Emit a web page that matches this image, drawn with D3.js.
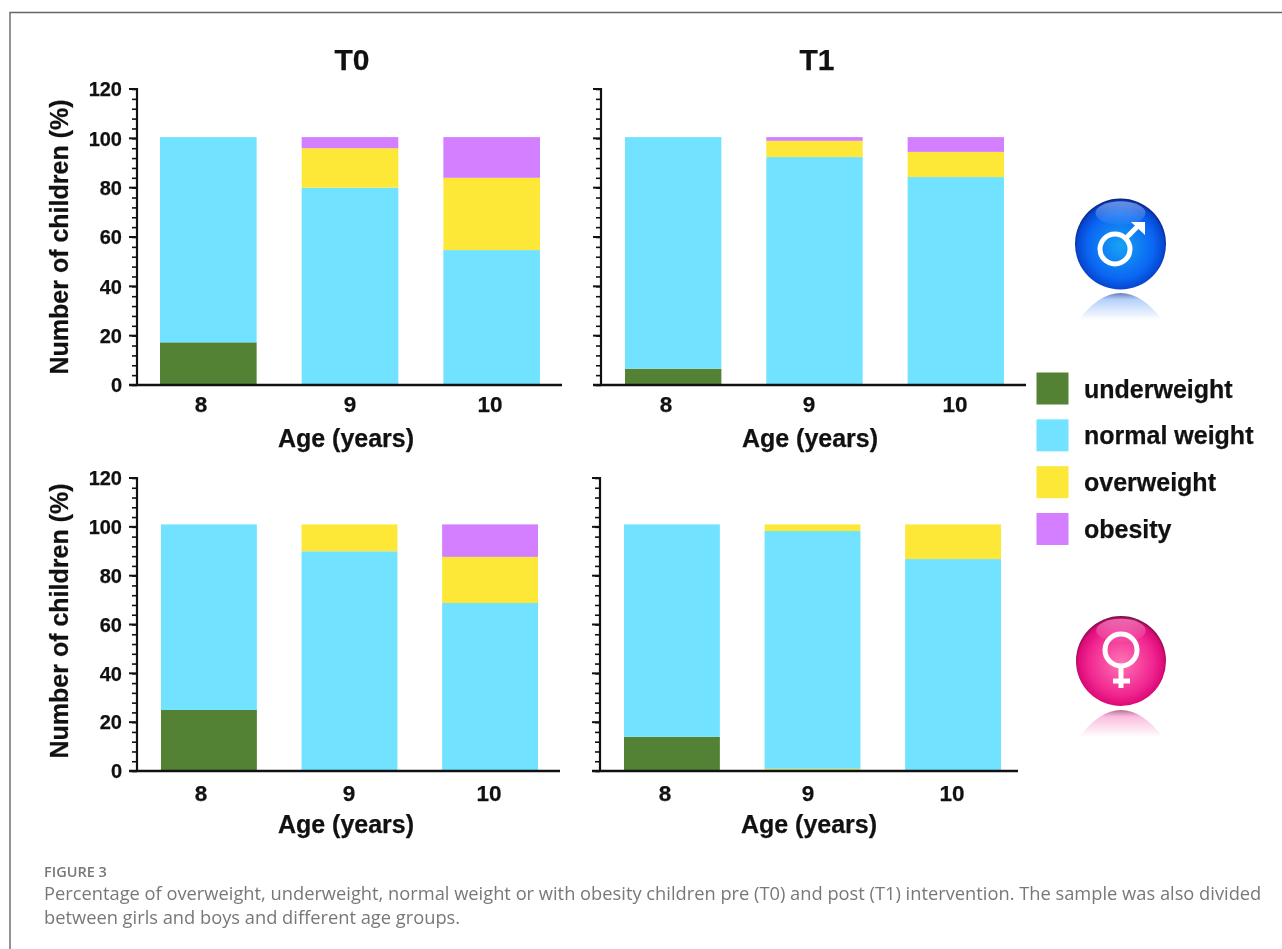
<!DOCTYPE html>
<html>
<head>
<meta charset="utf-8">
<script src="https://cdnjs.cloudflare.com/ajax/libs/d3/7.8.5/d3.min.js"></script>
<style>
  html, body { margin: 0; padding: 0; background: #fff; }
  svg { display: block; filter: blur(0.35px); }
  text { font-family: "Liberation Sans", Arial, sans-serif; font-weight: bold; fill: #111; stroke: #111; stroke-width: 0.25px; }
  .caption text { font-family: "Open Sans", Lato, sans-serif; font-weight: 400; fill: #787878; stroke: none; }
</style>
</head>
<body>
<svg id="chart" width="1282" height="949"></svg>
<script>
// values, in percent
const ages = ["8", "9", "10"];
const yTicks = [0, 20, 40, 60, 80, 100, 120];
const classes = ["underweight", "normal weight", "overweight", "obesity"];
const colors = ["#548235", "#71e2ff", "#fde838", "#d37fff"];

const boysT0Under = [17.3, 0, 0];
const boysT0Normal = [83.2, 80, 54.7];
const boysT0Over = [0, 16, 29.3];
const boysT0Obese = [0, 4.5, 16.5];

const boysT1Under = [6.6, 0, 0];
const boysT1Normal = [93.9, 92.4, 84.3];
const boysT1Over = [0, 6.6, 10.2];
const boysT1Obese = [0, 1.5, 6];

const girlsT0Under = [25, 0, 0];
const girlsT0Normal = [76, 90, 68.8];
const girlsT0Over = [0, 11, 18.9];
const girlsT0Obese = [0, 0, 13.3];

const girlsT1Under = [14, 0, 0];
const girlsT1Normal = [87, 97.4, 86.8];
const girlsT1Over = [0, 2.7, 14.2];
const girlsT1Obese = [0, 0, 0];
// thin yellow sliver that sits under the blue bar at age 9
const girlsT1Sliver = [0, 0.9, 0];

const svg = d3.select("#chart");

// frame around the figure, open at the right
svg.append("path")
  .attr("d", "M10,949V12.5H1282")
  .attr("fill", "none")
  .attr("stroke", "#666")
  .attr("stroke-width", 1.4);

function drawPanel(opts) {
  const sliver = opts.sliver || [0, 0, 0];
  const rows = ages.map((age, i) => ({
    age: age,
    sliver: sliver[i],
    "underweight": opts.under[i],
    "normal weight": opts.normal[i],
    "overweight": opts.over[i],
    "obesity": opts.obese[i]
  }));

  const y = d3.scaleLinear().domain([0, 120]).range([opts.y0, opts.y120]);
  const x = d3.scaleBand()
    .domain(ages)
    .range([opts.barLeft, opts.barRight])
    .paddingInner(0.318);
  const color = d3.scaleOrdinal()
    .domain(["sliver"].concat(classes))
    .range([colors[2]].concat(colors));

  const g = svg.append("g");

  g.selectAll(".layer")
    .data(d3.stack().keys(["sliver"].concat(classes))(rows))
    .enter()
    .append("g")
    .attr("fill", (d) => color(d.key))
    .selectAll("rect")
    .data((d) => d)
    .enter()
    .append("rect")
    .attr("x", (d) => x(d.data.age))
    .attr("y", (d) => y(d[1]))
    .attr("width", x.bandwidth())
    .attr("height", (d) => y(d[0]) - y(d[1]));

  // minor ticks every 4 units, then the longer ones at each 20
  const yAxis = g.append("g").attr("transform", `translate(${opts.axisX},0)`);
  yAxis.call(d3.axisLeft(y).tickValues(d3.range(0, 121, 4)).tickSize(5).tickFormat(""));
  yAxis.call((s) => s.selectAll("line").attr("stroke", "#111").attr("stroke-width", 1.6));
  yAxis.select(".domain").remove();
  yAxis.append("line")
    .attr("y1", y(120) - 1).attr("y2", y(0) + 1)
    .attr("stroke", "#111").attr("stroke-width", 2.2);

  const majors = yAxis.selectAll(".major")
    .data(yTicks)
    .enter()
    .append("g")
    .attr("class", "major")
    .attr("transform", (d) => `translate(0,${y(d)})`);
  majors.append("line").attr("x2", -8).attr("stroke", "#111").attr("stroke-width", 2);

  // only the left panels carry numbers and a y title
  if (opts.yLabelY) {
    majors.append("text")
      .attr("x", -15)
      .attr("dy", "0.36em")
      .attr("text-anchor", "end")
      .attr("font-size", 20)
      .text((d) => d);

    g.append("text")
      .attr("transform", `translate(68,${opts.yLabelY}) rotate(-90)`)
      .attr("text-anchor", "middle")
      .attr("font-size", 25)
      .text("Number of children (%)");
  }

  // baseline
  g.append("line")
    .attr("x1", opts.axisX - 8).attr("x2", opts.lineEnd)
    .attr("y1", y(0)).attr("y2", y(0))
    .attr("stroke", "#111").attr("stroke-width", 2.4);

  g.selectAll(".age")
    .data(ages)
    .enter()
    .append("text")
    .attr("x", (d, i) => opts.ageX[i])
    .attr("y", y(0) + opts.ageDy)
    .attr("text-anchor", "middle")
    .attr("font-size", 22.5)
    .text((d) => d);

  g.append("text")
    .attr("x", opts.titleX)
    .attr("y", y(0) + opts.titleDy)
    .attr("text-anchor", "middle")
    .attr("font-size", 25)
    .text("Age (years)");

  if (opts.title) {
    g.append("text")
      .attr("x", opts.title === "T0" ? 352 : 817)
      .attr("y", 70)
      .attr("text-anchor", "middle")
      .attr("font-size", 30)
      .text(opts.title);
  }
}

drawPanel({ under: boysT0Under, normal: boysT0Normal, over: boysT0Over, obese: boysT0Obese,
  y0: 385, y120: 89, axisX: 137, barLeft: 160, barRight: 540, lineEnd: 562,
  ageX: [201, 350, 490], ageDy: 27, titleX: 346, titleDy: 62, yLabelY: 237, title: "T0" });
drawPanel({ under: boysT1Under, normal: boysT1Normal, over: boysT1Over, obese: boysT1Obese,
  y0: 385, y120: 89, axisX: 601, barLeft: 625, barRight: 1004, lineEnd: 1026,
  ageX: [666, 809, 955], ageDy: 27, titleX: 810, titleDy: 62, title: "T1" });
drawPanel({ under: girlsT0Under, normal: girlsT0Normal, over: girlsT0Over, obese: girlsT0Obese,
  y0: 771, y120: 478, axisX: 137, barLeft: 161, barRight: 538, lineEnd: 560,
  ageX: [201, 349, 489], ageDy: 30, titleX: 346, titleDy: 62, yLabelY: 621 });
drawPanel({ under: girlsT1Under, normal: girlsT1Normal, over: girlsT1Over, obese: girlsT1Obese, sliver: girlsT1Sliver,
  y0: 771, y120: 478, axisX: 600, barLeft: 624, barRight: 1001, lineEnd: 1018,
  ageX: [665, 808, 952], ageDy: 30, titleX: 809, titleDy: 62 });

// legend
const legendY = d3.scalePoint().domain(classes).range([388.5, 529]);
const legendRows = svg.append("g").selectAll("g")
  .data(classes)
  .enter()
  .append("g")
  .attr("transform", (d) => `translate(0,${legendY(d)})`);
legendRows.append("rect")
  .attr("x", 1036.5).attr("y", -16)
  .attr("width", 32).attr("height", 32)
  .attr("fill", (d, i) => colors[i]);
legendRows.append("text")
  .attr("x", 1084).attr("dy", "0.36em")
  .attr("font-size", 25)
  .text((d) => d);

// glossy gender badges
const defs = svg.append("defs");
function badgeDefs(id, stops, rim) {
  const grad = defs.append("radialGradient").attr("id", id).attr("cx", "50%").attr("cy", "52%").attr("r", "52%");
  stops.forEach((s) => grad.append("stop").attr("offset", s[0]).attr("stop-color", s[1]));
  grad.append("stop").attr("offset", "100%").attr("stop-color", rim);
  const refl = defs.append("linearGradient").attr("id", id + "-refl").attr("x1", 0).attr("x2", 0).attr("y1", 0).attr("y2", 1);
  refl.append("stop").attr("offset", "0%").attr("stop-color", rim).attr("stop-opacity", 0.6);
  refl.append("stop").attr("offset", "25%").attr("stop-color", stops[1][1]).attr("stop-opacity", 0.3);
  refl.append("stop").attr("offset", "100%").attr("stop-color", stops[1][1]).attr("stop-opacity", 0);
}
badgeDefs("blue", [["0%", "#17a3f4"], ["70%", "#0a66f2"], ["92%", "#0646d0"]], "#0a1f78");
badgeDefs("pink", [["0%", "#ff74b6"], ["70%", "#f0258f"], ["92%", "#dc0a78"]], "#701040");
const shine = defs.append("linearGradient").attr("id", "shine").attr("x1", 0).attr("x2", 0).attr("y1", 0).attr("y2", 1);
shine.append("stop").attr("offset", "0%").attr("stop-color", "#fff").attr("stop-opacity", 0.4);
shine.append("stop").attr("offset", "100%").attr("stop-color", "#fff").attr("stop-opacity", 0.03);

function drawBadge(cx, cy, r, id) {
  const g = svg.append("g");
  g.append("path")
    .attr("d", `M${cx - 42},${cy + 76}Q${cx},${cy + 22} ${cx + 42},${cy + 76}Z`)
    .attr("fill", `url(#${id}-refl)`);
  g.append("circle").attr("cx", cx).attr("cy", cy).attr("r", r).attr("fill", `url(#${id})`);
  g.append("ellipse").attr("cx", cx).attr("cy", cy - r * 0.68).attr("rx", r * 0.55).attr("ry", r * 0.26).attr("fill", "url(#shine)");
  return g;
}

const male = drawBadge(1120.5, 244, 45.5, "blue");
male.append("circle").attr("cx", 1115).attr("cy", 249).attr("r", 15)
  .attr("fill", "none").attr("stroke", "#fff").attr("stroke-width", 5);
male.append("path")
  .attr("d", "M1126,238L1139,225")
  .attr("fill", "none").attr("stroke", "#fff").attr("stroke-width", 5);
male.append("path").attr("d", "M1131,222H1145V235Z").attr("fill", "#fff");

const female = drawBadge(1121, 661, 45, "pink");
female.append("circle").attr("cx", 1121).attr("cy", 650).attr("r", 16)
  .attr("fill", "none").attr("stroke", "#fff").attr("stroke-width", 5);
female.append("path")
  .attr("d", "M1121,668V688M1113,681H1130")
  .attr("fill", "none").attr("stroke", "#fff").attr("stroke-width", 5);

// caption
const caption = svg.append("g").attr("class", "caption");
caption.append("text").attr("x", 44).attr("y", 877).attr("font-size", 14.5).style("font-weight", 600).text("FIGURE 3");
caption.append("text").attr("x", 44).attr("y", 900).attr("font-size", 18.3)
  .text("Percentage of overweight, underweight, normal weight or with obesity children pre (T0) and post (T1) intervention. The sample was also divided");
caption.append("text").attr("x", 44).attr("y", 924).attr("font-size", 18.3)
  .text("between girls and boys and different age groups.");
</script>
</body>
</html>
